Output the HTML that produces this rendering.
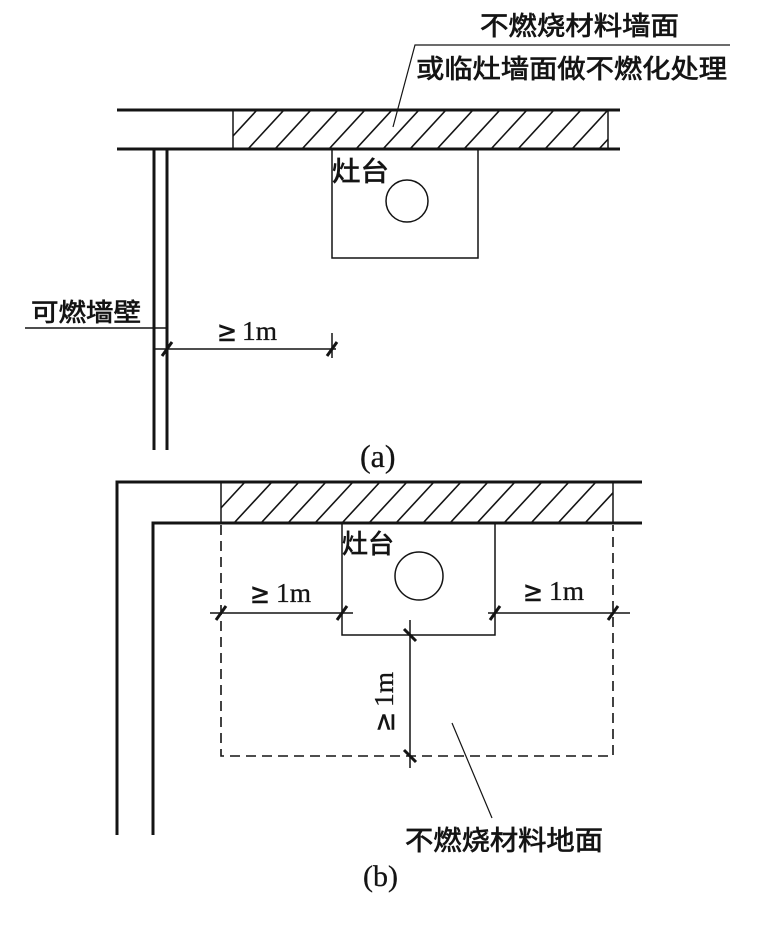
<!DOCTYPE html>
<html>
<head>
<meta charset="utf-8">
<style>
  html, body { margin:0; padding:0; background:#ffffff; }
  svg { display:block; }
  .cjk { font-family: "Liberation Sans", "Noto Sans CJK SC", "WenQuanYi Zen Hei", sans-serif; fill:#141414; stroke:#141414; stroke-width:0.7; }
  .ser { font-family: "Liberation Serif", "DejaVu Serif", serif; fill:#141414; stroke:#141414; stroke-width:0.3; }
  .ge { font-family: "DejaVu Serif", "Liberation Serif", serif; fill:#141414; stroke:#141414; stroke-width:0.6; }
</style>
</head>
<body>
<svg width="775" height="937" viewBox="0 0 775 937" xmlns="http://www.w3.org/2000/svg">
  <defs>
    <clipPath id="ca"><rect x="233" y="110" width="375" height="39"/></clipPath>
    <clipPath id="cb"><rect x="221" y="482" width="392" height="41"/></clipPath>
  </defs>
  <rect width="775" height="937" fill="#ffffff"/>

  <!-- ================= (a) ================= -->
  <g stroke="#141414" fill="none">
    <line x1="117" y1="110" x2="620" y2="110" stroke-width="3"/>
    <line x1="117" y1="149" x2="620" y2="149" stroke-width="3"/>
    <line x1="233" y1="110" x2="233" y2="149" stroke-width="1.5"/>
    <line x1="608" y1="110" x2="608" y2="149" stroke-width="1.5"/>
    <g clip-path="url(#ca)" stroke-width="1.6">
      <line x1="221" y1="149" x2="257" y2="110"/>
      <line x1="248" y1="149" x2="284" y2="110"/>
      <line x1="275" y1="149" x2="311" y2="110"/>
      <line x1="302" y1="149" x2="338" y2="110"/>
      <line x1="329" y1="149" x2="365" y2="110"/>
      <line x1="356" y1="149" x2="392" y2="110"/>
      <line x1="383" y1="149" x2="419" y2="110"/>
      <line x1="410" y1="149" x2="446" y2="110"/>
      <line x1="437" y1="149" x2="473" y2="110"/>
      <line x1="464" y1="149" x2="500" y2="110"/>
      <line x1="491" y1="149" x2="527" y2="110"/>
      <line x1="518" y1="149" x2="554" y2="110"/>
      <line x1="545" y1="149" x2="581" y2="110"/>
      <line x1="572" y1="149" x2="608" y2="110"/>
      <line x1="599" y1="149" x2="635" y2="110"/>
    </g>
    <line x1="154" y1="149" x2="154" y2="450" stroke-width="3"/>
    <line x1="167" y1="149" x2="167" y2="450" stroke-width="3"/>
    <polyline points="332,149 332,258 478,258 478,149" stroke-width="1.5"/>
    <circle cx="407" cy="201" r="21" stroke-width="1.5"/>
    <polyline points="393,127 415,45 730,45" stroke-width="1.2"/>
    <line x1="25" y1="328" x2="167" y2="328" stroke-width="1.5"/>
    <line x1="154" y1="349" x2="336" y2="349" stroke-width="1.5"/>
    <line x1="332" y1="333" x2="332" y2="358" stroke-width="1.5"/>
    <line x1="162" y1="356" x2="172" y2="342" stroke-width="3"/>
    <line x1="327" y1="356" x2="337" y2="342" stroke-width="3"/>
  </g>

  <text class="cjk" x="480" y="35" font-size="26" textLength="199" lengthAdjust="spacingAndGlyphs">不燃烧材料墙面</text>
  <text class="cjk" x="416" y="78" font-size="26" textLength="311" lengthAdjust="spacingAndGlyphs">或临灶墙面做不燃化处理</text>
  <text class="cjk" x="332" y="181" font-size="27" textLength="57" lengthAdjust="spacingAndGlyphs">灶台</text>
  <text class="cjk" x="31" y="321" font-size="25" textLength="110" lengthAdjust="spacingAndGlyphs">可燃墙壁</text>

  <text class="ge" x="217" y="341" font-size="28" textLength="20" lengthAdjust="spacingAndGlyphs">≥</text>
  <text class="ser" x="242" y="340" font-size="27" textLength="35" lengthAdjust="spacingAndGlyphs">1m</text>

  <text class="ser" x="360" y="467" font-size="32">(a)</text>

  <!-- ================= (b) ================= -->
  <g stroke="#141414" fill="none">
    <polyline points="117,835 117,482 642,482" stroke-width="3"/>
    <polyline points="153,835 153,523 642,523" stroke-width="3"/>
    <line x1="221" y1="482" x2="221" y2="523" stroke-width="1.5"/>
    <line x1="613" y1="482" x2="613" y2="523" stroke-width="1.5"/>
    <g clip-path="url(#cb)" stroke-width="1.6">
      <line x1="207" y1="523" x2="245" y2="482"/>
      <line x1="234" y1="523" x2="272" y2="482"/>
      <line x1="261" y1="523" x2="299" y2="482"/>
      <line x1="288" y1="523" x2="326" y2="482"/>
      <line x1="315" y1="523" x2="353" y2="482"/>
      <line x1="342" y1="523" x2="380" y2="482"/>
      <line x1="369" y1="523" x2="407" y2="482"/>
      <line x1="396" y1="523" x2="434" y2="482"/>
      <line x1="423" y1="523" x2="461" y2="482"/>
      <line x1="450" y1="523" x2="488" y2="482"/>
      <line x1="477" y1="523" x2="515" y2="482"/>
      <line x1="504" y1="523" x2="542" y2="482"/>
      <line x1="531" y1="523" x2="569" y2="482"/>
      <line x1="558" y1="523" x2="596" y2="482"/>
      <line x1="585" y1="523" x2="623" y2="482"/>
    </g>
    <polyline points="221,525 221,756 613,756 613,525" stroke-width="1.6" stroke-dasharray="10,6"/>
    <polyline points="342,523 342,635 495,635 495,523" stroke-width="1.5"/>
    <circle cx="419" cy="576" r="24" stroke-width="1.5"/>
    <line x1="210" y1="613" x2="353" y2="613" stroke-width="1.5"/>
    <line x1="216" y1="620" x2="226" y2="606" stroke-width="3"/>
    <line x1="337" y1="620" x2="347" y2="606" stroke-width="3"/>
    <line x1="488" y1="613" x2="630" y2="613" stroke-width="1.5"/>
    <line x1="490" y1="620" x2="500" y2="606" stroke-width="3"/>
    <line x1="608" y1="620" x2="618" y2="606" stroke-width="3"/>
    <line x1="410" y1="620" x2="410" y2="768" stroke-width="1.5"/>
    <line x1="404" y1="629" x2="416" y2="641" stroke-width="3"/>
    <line x1="404" y1="750" x2="416" y2="762" stroke-width="3"/>
    <line x1="452" y1="723" x2="492" y2="818" stroke-width="1.2"/>
  </g>

  <text class="cjk" x="342" y="553" font-size="26" textLength="52" lengthAdjust="spacingAndGlyphs">灶台</text>

  <text class="ge" x="250" y="603" font-size="28" textLength="20" lengthAdjust="spacingAndGlyphs">≥</text>
  <text class="ser" x="276" y="602" font-size="27" textLength="35" lengthAdjust="spacingAndGlyphs">1m</text>

  <text class="ge" x="523" y="601" font-size="28" textLength="20" lengthAdjust="spacingAndGlyphs">≥</text>
  <text class="ser" x="549" y="600" font-size="27" textLength="35" lengthAdjust="spacingAndGlyphs">1m</text>

  <g transform="translate(393,732) rotate(-90)">
    <text class="ge" x="0" y="1" font-size="28" textLength="20" lengthAdjust="spacingAndGlyphs">≥</text>
    <text class="ser" x="25" y="0" font-size="27" textLength="35" lengthAdjust="spacingAndGlyphs">1m</text>
  </g>

  <text class="cjk" x="405" y="850" font-size="27" textLength="198" lengthAdjust="spacingAndGlyphs">不燃烧材料地面</text>
  <text class="ser" x="363" y="886" font-size="30">(b)</text>
</svg>
</body>
</html>
